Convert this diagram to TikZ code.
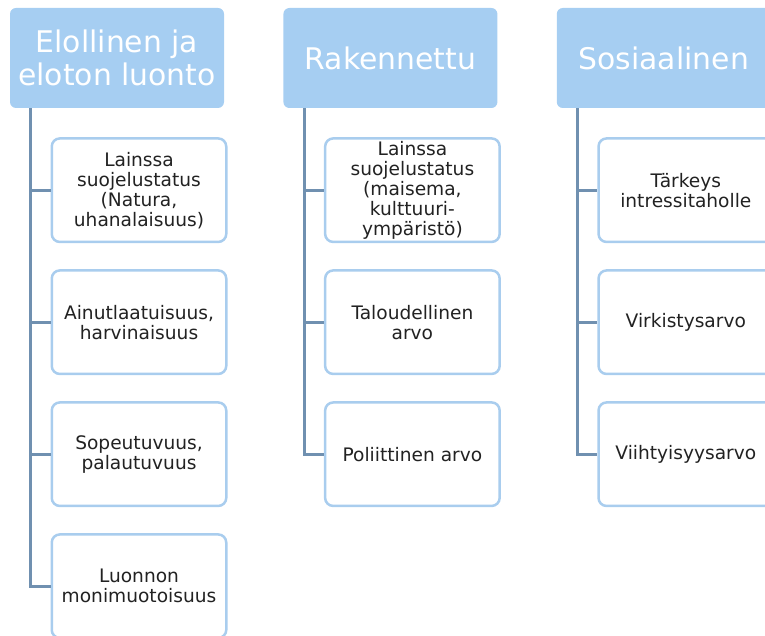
\documentclass[tikz,border=0pt]{standalone}
\usepackage{fontspec}
\setmainfont{DejaVu Sans}
\usepackage{xcolor}
\definecolor{hd}{HTML}{A6CEF2}
\definecolor{bx}{HTML}{A9CDEE}
\definecolor{ln}{HTML}{7090B0}
\definecolor{tx}{HTML}{222222}
\usepackage{tikz}
\usetikzlibrary{positioning}

\begin{document}
\begin{tikzpicture}[
  x=1pt, y=1pt,
  node distance=26pt and 59pt,
  head/.style={rectangle, fill=hd, rounded corners=6pt, minimum width=214pt, minimum height=100pt,
    inner sep=0pt, align=center, text=white, font=\fontsize{29.8}{33}\selectfont},
  item/.style={rectangle, draw=bx, fill=white, line width=2.5pt, rounded corners=8pt,
    minimum width=174.5pt, minimum height=103.5pt, inner sep=0pt, align=center, text=tx,
    font=\fontsize{18.6}{20}\selectfont},
  conn/.style={draw=ln, line width=3pt},
]
  \clip (0,0) rectangle (765,636);

  \node[head] (nat) at (117,578) {Elollinen ja\\eloton luonto};
  \node[head, right=of nat] (rak) {Rakennettu};
  \node[head, right=of rak] (sos) {Sosiaalinen};

  \node[item, below=29pt of nat, xshift=22pt] (nat1) {Lainssa\\suojelustatus\\(Natura,\\uhanalaisuus)};
  \node[item, below=of nat1] (nat2) {Ainutlaatuisuus,\\harvinaisuus};
  \node[item, below=of nat2] (nat3) {Sopeutuvuus,\\palautuvuus};
  \node[item, below=of nat3] (nat4) {Luonnon\\monimuotoisuus};

  \node[item, below=29pt of rak, xshift=22pt] (rak1) {Lainssa\\suojelustatus\\(maisema,\\kulttuuri-\\ympäristö)};
  \node[item, below=of rak1] (rak2) {Taloudellinen\\arvo};
  \node[item, below=of rak2] (rak3) {Poliittinen arvo};

  \node[item, below=29pt of sos, xshift=22pt] (sos1) {Tärkeys\\intressitaholle};
  \node[item, below=of sos1] (sos2) {Virkistysarvo};
  \node[item, below=of sos2] (sos3) {Viihtyisyysarvo};

  \draw[conn] ([xshift=21pt]nat.south west) |- (nat1.west);
  \draw[conn] ([xshift=21pt]nat.south west) |- (nat2.west);
  \draw[conn] ([xshift=21pt]nat.south west) |- (nat3.west);
  \draw[conn] ([xshift=21pt]nat.south west) |- (nat4.west);
  \draw[conn] ([xshift=21pt]rak.south west) |- (rak1.west);
  \draw[conn] ([xshift=21pt]rak.south west) |- (rak2.west);
  \draw[conn] ([xshift=21pt]rak.south west) |- (rak3.west);
  \draw[conn] ([xshift=21pt]sos.south west) |- (sos1.west);
  \draw[conn] ([xshift=21pt]sos.south west) |- (sos2.west);
  \draw[conn] ([xshift=21pt]sos.south west) |- (sos3.west);
\end{tikzpicture}
\end{document}
